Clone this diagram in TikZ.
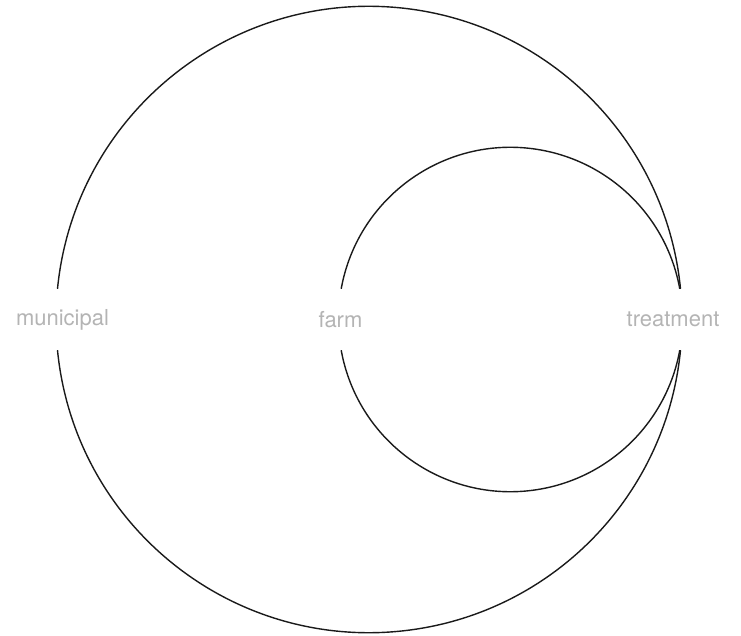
\documentclass[tikz,border=0pt]{standalone}
\usepackage{xcolor}
\usepackage{tikz}
\usepackage{fontspec}
\setmainfont{TeX Gyre Heros}
\usetikzlibrary{
  arrows.meta,
  positioning,
  calc
}
\definecolor{arcLine}{HTML}{1A1A1A}
\definecolor{arcLabel}{HTML}{B4B4B4}
\tikzset{
  arclabel/.style={
    inner sep=0pt, minimum height=61pt, text=arcLabel,
    font=\fontsize{22}{22}\selectfont, anchor=center
  },
  arclink/.style={draw=arcLine, line width=1.4pt}
}

\begin{document}
\begin{tikzpicture}[x=1pt, y=1pt]
  \useasboundingbox (0,0) rectangle (741,-636);
  % labels on the baseline
  \node[arclabel] (mun) at (62.5,-319.5) {municipal};
  \node[arclabel] (farm) at (340.5,-319.5) {farm};
  \node[arclabel] (treat) at (673,-319.5) {treatment};
  % outer arcs: municipal <-> treatment
  \draw[arclink] (mun.north) ++(-5,0) arc[start angle=174.41, end angle=5.59, radius=313];
  \draw[arclink] (mun.south) ++(-5,0) arc[start angle=185.59, end angle=354.41, radius=313];
  % inner arcs: farm <-> treatment
  \draw[arclink] (farm.north) ++(0.7,0) arc[start angle=169.79, end angle=10.21, radius=172];
  \draw[arclink] (farm.south) ++(0.7,0) arc[start angle=190.21, end angle=349.79, radius=172];
\end{tikzpicture}
\end{document}
